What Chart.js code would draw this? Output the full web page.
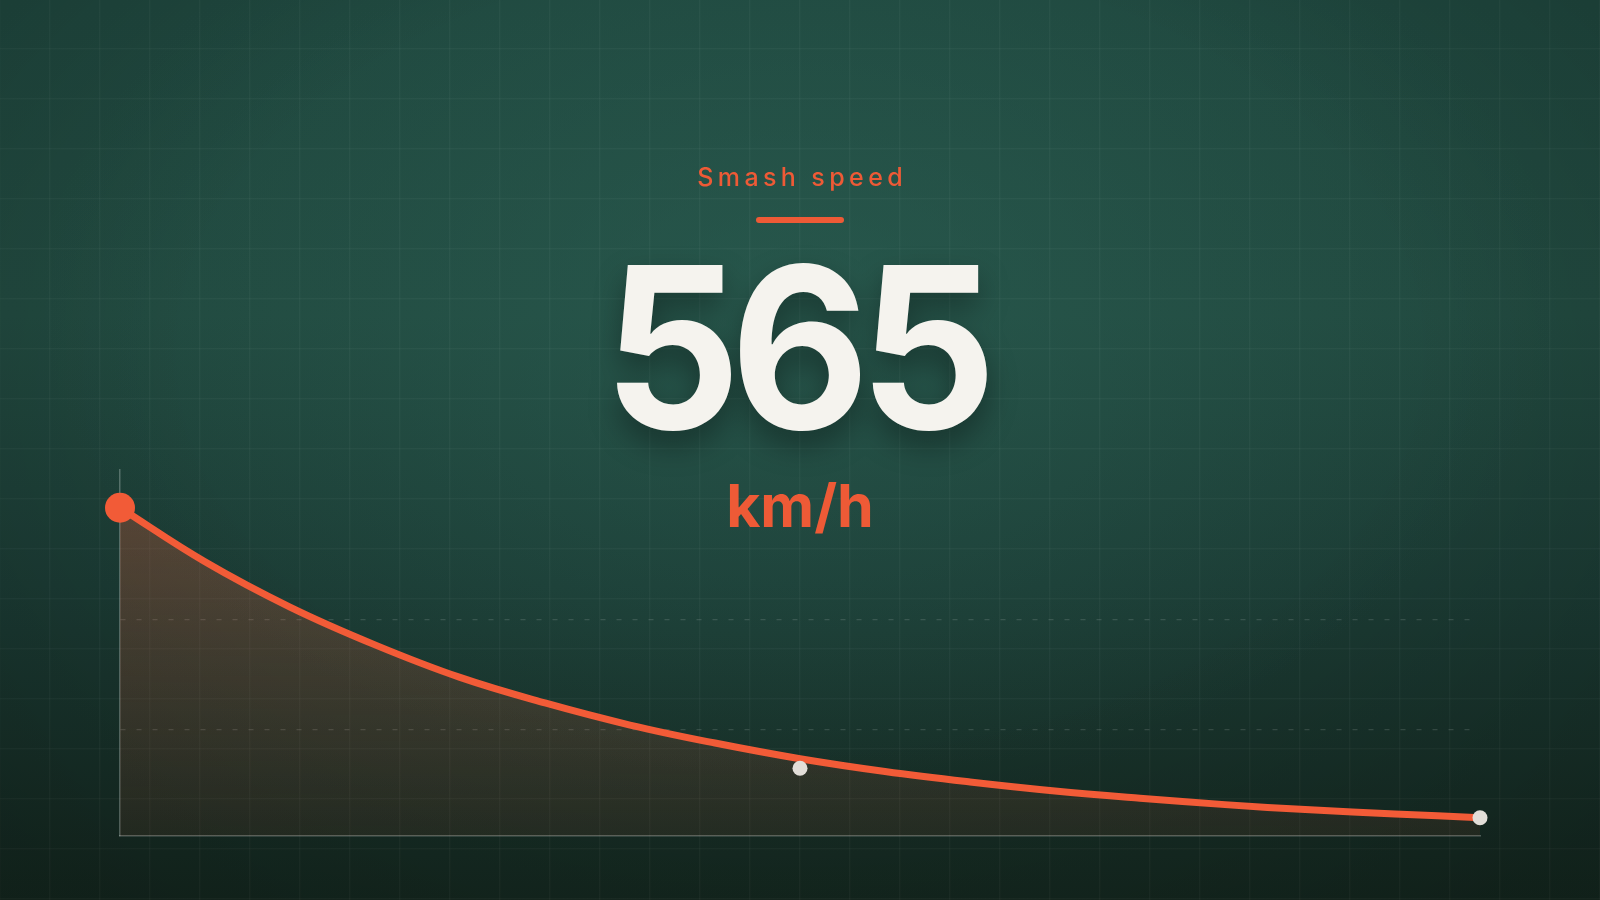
<!DOCTYPE html>
<html>
<head>
<meta charset="utf-8">
<script src="https://cdn.jsdelivr.net/npm/chart.js@4.4.1/dist/chart.umd.min.js"></script>
<style>
  html, body { margin: 0; padding: 0; width: 1600px; height: 900px; overflow: hidden; }
  body {
    position: relative;
    background:
      radial-gradient(ellipse 760px 480px at 800px 300px, rgba(44, 98, 86, 0.55) 0%, rgba(44, 98, 86, 0) 100%),
      linear-gradient(180deg, #1f473e 0%, #21493f 35%, #1b3b34 65%, #14271f 100%);
    font-family: Inter, "Noto Sans", sans-serif;
  }
  #grid {
    position: absolute; inset: 0;
    background-image:
      linear-gradient(0deg, rgba(255,255,255,0.045) 1.5px, transparent 1.5px),
      linear-gradient(90deg, rgba(255,255,255,0.045) 1.5px, transparent 1.5px);
    background-size: 50px 50px;
    background-position: -0.75px -0.75px;
  }
  #vignette {
    position: absolute; inset: 0;
    background: radial-gradient(ellipse 1100px 700px at 800px 350px, rgba(0,0,0,0) 55%, rgba(0,0,0,0.18) 100%);
  }
  #chartWrap { position: absolute; left: 0; top: 0; width: 1600px; height: 900px; }
  .txt { position: absolute; left: 0; width: 1600px; text-align: center; white-space: nowrap; }
  #kicker {
    top: 165px; font-size: 25px; line-height: 25px; font-weight: 500;
    letter-spacing: 4.4px; text-indent: 4.4px; color: #ee5a36;
  }
  #bar {
    position: absolute; left: 756px; top: 216.5px; width: 88px; height: 6px;
    border-radius: 3px; background: #ee5a36;
  }
  #big {
    top: 235px; font-size: 225px; line-height: 225px; font-weight: 700;
    letter-spacing: -11px; text-indent: -11px; color: #f5f3ee;
    transform: scaleX(0.955); transform-origin: 800px 50%;
    text-shadow: 0 14px 30px rgba(0,0,0,0.35);
  }
  #unit {
    top: 476px; font-size: 59px; line-height: 59px; font-weight: 700;
    color: #ee5a36;
  }
</style>
</head>
<body>
<div id="grid"></div>
<div id="vignette"></div>
<div id="chartWrap"><canvas id="c" width="1600" height="900"></canvas></div>
<div id="kicker" class="txt">Smash speed</div>
<div id="bar"></div>
<div id="big" class="txt">565</div>
<div id="unit" class="txt">km/h</div>

<script>
// ---- data ----
const timeLabels = ['0','1','2','3','4','5','6','7','8','9','10','11','12','13','14','15','16'];
const speedValues = [565, 472, 394, 329, 273, 229, 191, 160, 133, 111, 93, 77.5, 65, 54, 45, 38, 31.5];
const markerValues = [565, null, null, null, null, null, null, null, 116.5, null, null, null, null, null, null, null, 31.5];
const yMin = 0;
const yMax = 630;
const yGridTicks = [183, 372];

const ORANGE = '#f25b37';
const LIGHT = '#e2ded8';

new Chart(document.getElementById('c'), {
  type: 'line',
  data: {
    labels: timeLabels,
    datasets: [
      {
        label: 'markers',
        data: markerValues,
        showLine: false,
        order: 0,
        pointRadius: (ctx) => ctx.dataIndex === 0 ? 15 : 7.5,
        pointHoverRadius: (ctx) => ctx.dataIndex === 0 ? 15 : 7.5,
        pointBackgroundColor: (ctx) => ctx.dataIndex === 0 ? ORANGE : LIGHT,
        pointBorderWidth: 0,
        spanGaps: false
      },
      {
        label: 'Smash speed',
        data: speedValues,
        order: 1,
        borderColor: ORANGE,
        borderWidth: 7,
        borderCapStyle: 'round',
        borderJoinStyle: 'round',
        tension: 0.4,
        pointRadius: 0,
        pointHoverRadius: 0,
        fill: 'origin',
        backgroundColor: (ctx) => {
          const chart = ctx.chart;
          const a = chart.chartArea;
          if (!a) return 'rgba(242,91,55,0.2)';
          const g = chart.ctx.createLinearGradient(0, a.top, 0, a.bottom);
          g.addColorStop(0, 'rgba(242,91,55,0.30)');
          g.addColorStop(0.5, 'rgba(242,91,55,0.18)');
          g.addColorStop(1, 'rgba(242,91,55,0.07)');
          return g;
        }
      }
    ]
  },
  options: {
    responsive: false,
    animation: false,
    devicePixelRatio: 1,
    layout: { autoPadding: false, padding: { left: 120, right: 120, top: 470, bottom: 64 } },
    plugins: { legend: { display: false }, tooltip: { enabled: false } },
    events: [],
    scales: {
      x: {
        type: 'category',
        offset: false,
        grid: { display: false, drawTicks: false },
        ticks: { display: false },
        border: { display: true, color: 'rgba(220,230,225,0.30)', width: 1.5 }
      },
      y: {
        min: yMin,
        max: yMax,
        afterBuildTicks: (scale) => {
          scale.ticks = [yMin, ...yGridTicks, yMax].map(v => ({ value: v }));
        },
        grid: {
          drawTicks: false,
          lineWidth: 1.2,
          color: (ctx) => (ctx.tick && yGridTicks.includes(ctx.tick.value)) ? 'rgba(255,255,255,0.13)' : 'rgba(0,0,0,0)'
        },
        ticks: { display: false },
        border: { display: true, color: 'rgba(220,230,225,0.30)', width: 1.5, dash: [5, 11] }
      }
    }
  }
});
</script>
</body>
</html>
